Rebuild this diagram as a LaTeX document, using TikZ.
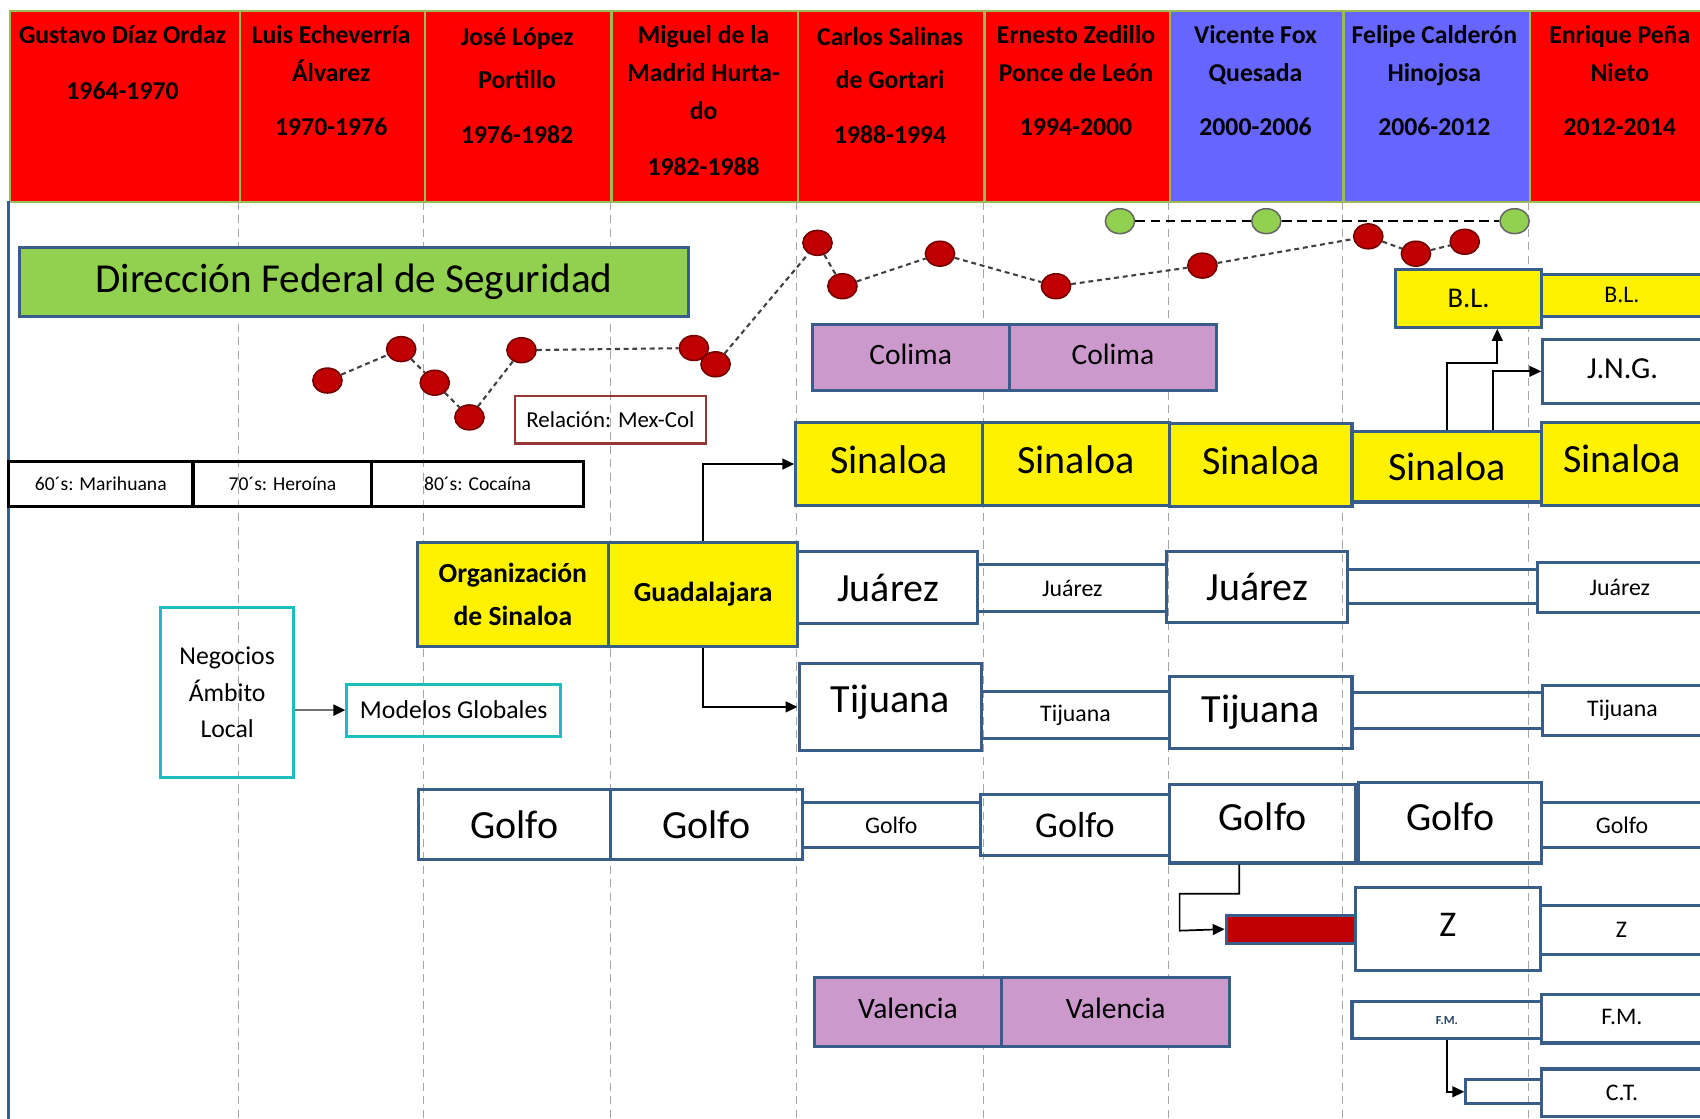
\documentclass[tikz,border=0pt]{standalone}
\usepackage{fontspec}
\setmainfont{Carlito}
\usetikzlibrary{arrows.meta,shapes.geometric}

\definecolor{hdrred}{HTML}{FF0000}
\definecolor{hdrblue}{HTML}{6666FF}
\definecolor{hdrgreen}{HTML}{9BBB59}
\definecolor{boxblue}{HTML}{385D8A}
\definecolor{dfsgreen}{HTML}{92D050}
\definecolor{orchidfill}{HTML}{CC99CC}
\definecolor{tealline}{HTML}{1CBDBD}
\definecolor{dotred}{HTML}{C00000}
\definecolor{relred}{HTML}{953735}

\begin{document}
\begin{tikzpicture}[x=0.2mm, y=-0.2mm, >={Triangle[length=2.2mm,width=2mm]},
    sz/.style 2 args={minimum width=#1*0.2mm, minimum height=#2*0.2mm},
    cell/.style={draw=hdrgreen, line width=1.2pt, inner sep=0pt, anchor=north west},
    headtxt/.style={anchor=north, align=center, inner sep=0pt, font=\fontsize{13.5}{20}\selectfont\bfseries},
    cartel/.style={draw=boxblue, line width=1.6pt, inner sep=0pt, align=center},
    bigtxt/.style={font=\fontsize{21}{24}\selectfont},
    midtxt/.style={font=\fontsize{15.5}{18}\selectfont},
    smalltxt/.style={font=\fontsize{12.5}{14}\selectfont},
    reddot/.style={ellipse, draw=dotred!60!black, fill=dotred, line width=0.8pt, inner sep=0pt, sz={27}{23}},
    greendot/.style={ellipse, draw=black!60, fill=dfsgreen, line width=0.8pt, inner sep=0pt, sz={27}{23}},
    trail/.style={draw=black!75, line width=1.1pt, dash pattern=on 0.9mm off 0.7mm},
    period/.style={draw=black!35, line width=0.5pt, dash pattern=on 1.5mm off 1mm},
    link/.style={->, draw=black, line width=0.9pt}]
    \useasboundingbox (0,0) rectangle (1568,1032);
    \clip (0,0) rectangle (1568,1032);

    \node[cell, fill=hdrred,  sz={212}{176}] (c1) at (8,9)    {};
    \node[cell, fill=hdrred,  sz={171}{176}] (c2) at (220,9)  {};
    \node[cell, fill=hdrred,  sz={172}{176}] (c3) at (391,9)  {};
    \node[cell, fill=hdrred,  sz={172}{176}] (c4) at (563,9)  {};
    \node[cell, fill=hdrred,  sz={172}{176}] (c5) at (735,9)  {};
    \node[cell, fill=hdrred,  sz={171}{176}] (c6) at (907,9)  {};
    \node[cell, fill=hdrblue, sz={160}{176}] (c7) at (1078,9) {};
    \node[cell, fill=hdrblue, sz={172}{176}] (c8) at (1238,9) {};
    \node[cell, fill=hdrred,  sz={172}{176}] (c9) at (1410,9) {};

    \node[headtxt] (h1) at (113,15.4)   {\strut Gustavo Díaz Ordaz\\[9pt]1964-1970};
    \node[headtxt] (h2) at (305.5,15.4) {\strut Luis Echeverría\\Álvarez\\[8pt]1970-1976};
    \node[headtxt] (h3) at (477,17.4)   {\strut José López\\[2.2pt]Portillo\\[9pt]1976-1982};
    \node[headtxt] (h4) at (649,15.4)   {\strut Miguel de la\\Madrid Hurta-\\do\\[9pt]1982-1988};
    \node[headtxt] (h5) at (821,17.4)   {\strut Carlos Salinas\\[2.2pt]de Gortari\\[9pt]1988-1994};
    \node[headtxt] (h6) at (992.5,15.4) {\strut Ernesto Zedillo\\Ponce de León\\[8pt]1994-2000};
    \node[headtxt] (h7) at (1158,15.4)  {\strut Vicente Fox\\Quesada\\[8pt]2000-2006};
    \node[headtxt] (h8) at (1323,15.4)  {\strut Felipe Calderón\\Hinojosa\\[8pt]2006-2012};
    \node[headtxt] (h9) at (1494,15.4)  {\strut Enrique Peña\\Nieto\\[8pt]2012-2014};

    \draw[boxblue, line width=1.6pt] (8,185) -- (8,1032);
    \draw[period] (220,186) -- (220,1032) (391,186) -- (391,1032) (563,186) -- (563,1032)
        (735,186) -- (735,1032) (907,186) -- (907,1032) (1078,186) -- (1078,1032)
        (1238,186) -- (1238,1032) (1410,186) -- (1410,1032);

    \node[cartel, fill=dfsgreen, sz={617}{64}, font=\fontsize{21.6}{24}\selectfont] (dfs) at (326.5,260) {Dirección Federal de Seguridad};
    \node[cartel, draw=relred, line width=1.2pt, sz={176}{44}, font=\fontsize{12}{14}\selectfont] (rel) at (563,387) {Relación: Mex-Col};

    \node[cartel, draw=black, sz={170}{41}, font=\fontsize{10.3}{12}\selectfont] (dr1) at (93,446.5)    {60´s: Marihuana};
    \node[cartel, draw=black, sz={165}{41}, font=\fontsize{10.3}{12}\selectfont] (dr2) at (260.5,446.5) {70´s: Heroína};
    \node[cartel, draw=black, sz={195}{41}, font=\fontsize{10.3}{12}\selectfont] (dr3) at (440.5,446.5) {80´s: Cocaína};

    \node[reddot] (d1)  at (302,351)  {};
    \node[reddot] (d2)  at (370,322)  {};
    \node[reddot] (d3)  at (401,353)  {};
    \node[reddot] (d4)  at (433,385)  {};
    \node[reddot] (d5)  at (481,323)  {};
    \node[reddot] (d6)  at (640,321)  {};
    \node[reddot] (d7)  at (660,336)  {};
    \node[reddot] (d8)  at (754,224)  {};
    \node[reddot] (d9)  at (777,264)  {};
    \node[reddot] (d10) at (867,234)  {};
    \node[reddot] (d11) at (974,264)  {};
    \node[reddot] (d12) at (1109,245) {};
    \node[reddot] (d13) at (1262,218) {};
    \node[reddot] (d14) at (1306,234) {};
    \node[reddot] (d15) at (1351,223) {};
    \draw[trail] (d1) -- (d2) -- (d3) -- (d4) -- (d5) -- (d6);
    \draw[trail] (d7) -- (d8) -- (d9) -- (d10) -- (d11) -- (d12) -- (d13) -- (d14) -- (d15);

    \node[greendot] (g1) at (1033,204) {};
    \node[greendot] (g2) at (1168,204) {};
    \node[greendot] (g3) at (1397,204) {};
    \draw[draw=black, line width=1.1pt, dash pattern=on 1.8mm off 1mm] (g1) -- (g2) -- (g3);

    \node[cartel, fill=orchidfill, sz={182}{61}, midtxt] (col1) at (840,329.5)    {\raisebox{1mm}{Colima}};
    \node[cartel, fill=orchidfill, sz={191}{61}, midtxt] (col2) at (1026.5,329.5) {\raisebox{1mm}{Colima}};

    \node[cartel, fill=yellow, sz={172}{76}, bigtxt] (sin1) at (820,428)     {\raisebox{1.6mm}{Sinaloa}};
    \node[cartel, fill=yellow, sz={173}{76}, bigtxt] (sin2) at (992.5,428)   {\raisebox{1.6mm}{Sinaloa}};
    \node[cartel, fill=yellow, sz={168}{76}, bigtxt] (sin3) at (1163,429)    {\raisebox{1.6mm}{Sinaloa}};
    \node[cartel, fill=yellow, sz={175}{65}, bigtxt] (sin4) at (1334.5,430.5) {Sinaloa};
    \node[cartel, fill=yellow, sz={148}{76}, bigtxt] (sin5) at (1496,428)    {\raisebox{2mm}{Sinaloa}};

    \node[cartel, fill=yellow, sz={135}{53}, font=\fontsize{15}{18}\selectfont] (bl1) at (1354.5,275.5) {B.L.};
    \node[cartel, fill=yellow, sz={148}{39}, smalltxt] (bl2) at (1496,272.5) {B.L.};
    \node[cartel, sz={147}{59}, font=\fontsize{16}{18}\selectfont] (jng) at (1496.5,342.5) {\raisebox{1mm}{J.N.G.}};
    \draw[link] (sin4.north) -- ++(0,-62) -| ([xshift=5.3mm]bl1.south);
    \draw[link] ([xshift=8.5mm]sin4.north) |- (jng.west);

    \node[cartel, fill=yellow, sz={176}{96}, font=\fontsize{14.5}{22.8}\selectfont\bfseries] (org) at (473,548) {Organización\\de Sinaloa};
    \node[cartel, fill=yellow, sz={175}{96}, font=\fontsize{14.5}{17}\selectfont\bfseries] (gdl) at (648.5,548) {Guadalajara};

    \node[cartel, sz={166}{66}, bigtxt]   (jua1) at (819,542)    {Juárez};
    \node[cartel, sz={174}{43}, smalltxt] (jua2) at (989,542.5)  {Juárez};
    \node[cartel, sz={167}{65}, bigtxt]   (jua3) at (1159.5,541.5) {Juárez};
    \node[cartel, sz={175}{32}]           (jua4) at (1330.5,541) {};
    \node[cartel, sz={152}{46}, smalltxt] (jua5) at (1494,542)   {Juárez};

    \node[cartel, sz={168}{80}, bigtxt]   (tij1) at (821,652)    {\raisebox{3mm}{Tijuana}};
    \node[cartel, sz={174}{43}, smalltxt] (tij2) at (992,659.5)  {Tijuana};
    \node[cartel, sz={168}{66}, bigtxt]   (tij3) at (1163,657)   {Tijuana};
    \node[cartel, sz={176}{33}]           (tij4) at (1335,655.5) {};
    \node[cartel, sz={147}{46}, smalltxt] (tij5) at (1496.5,655) {Tijuana};

    \draw[link] (gdl.north) |- (sin1.west);
    \draw[link] (gdl.south) |- (tij1.west);

    \node[cartel, draw=tealline, sz={123}{157}, font=\fontsize{13.5}{19.4}\selectfont] (neg) at (209.5,638.5) {Negocios\\Ámbito\\Local};
    \node[cartel, draw=tealline, sz={197}{48}, font=\fontsize{13.5}{16}\selectfont] (mod) at (418.5,655) {Modelos Globales};
    \draw[-{Triangle[length=2.2mm,width=2mm,color=black]}, draw=black!55, line width=1.4pt] (neg.east |- mod.west) -- (mod.west);

    \node[cartel, sz={177}{65}, bigtxt]   (gol1) at (474.5,760.5) {Golfo};
    \node[cartel, sz={177}{65}, bigtxt]   (gol2) at (651.5,760.5) {Golfo};
    \node[cartel, sz={164}{42}, smalltxt] (gol3) at (822,761)     {Golfo};
    \node[cartel, sz={175}{56}, font=\fontsize{19}{22}\selectfont] (gol4) at (991.5,761) {Golfo};
    \node[cartel, sz={171}{72}, bigtxt]   (gol5) at (1164.5,760)  {\raisebox{2.6mm}{Golfo}};
    \node[cartel, sz={169}{74}, bigtxt]   (gol6) at (1337.5,759)  {\raisebox{2.2mm}{Golfo}};
    \node[cartel, sz={148}{42}, smalltxt] (gol7) at (1496,761)    {Golfo};

    \node[cartel, fill=dotred, sz={119}{26}] (red) at (1190.5,857) {};
    \node[cartel, sz={171}{76}, font=\fontsize{19}{22}\selectfont] (z1) at (1335.5,857) {\raisebox{1.6mm}{Z}};
    \node[cartel, sz={149}{45}, smalltxt] (z2) at (1495.5,857.5) {Z};
    \draw[link] ([xshift=-4.3mm]gol5.south) -- ++(0,27) -| ++(-55,34) -- (red.west);

    \node[cartel, fill=orchidfill, sz={173}{63}, midtxt] (val1) at (837.5,933.5) {\raisebox{1.6mm}{Valencia}};
    \node[cartel, fill=orchidfill, sz={210}{63}, midtxt] (val2) at (1029,933.5)  {\raisebox{1.6mm}{Valencia}};

    \node[cartel, sz={175}{34}, font=\fontsize{6.5}{8}\selectfont\bfseries, text=boxblue!70!black] (fm1) at (1334.5,941) {F.M.};
    \node[cartel, sz={148}{45}, smalltxt] (fm2) at (1496,939.5) {\raisebox{0.6mm}{F.M.}};
    \node[cartel, sz={70}{22}]            (ct1) at (1387,1007)  {};
    \node[cartel, sz={148}{44}, smalltxt] (ct2) at (1496,1008)  {C.T.};
    \draw[link] (fm1.south) |- (ct1.west);
\end{tikzpicture}
\end{document}
